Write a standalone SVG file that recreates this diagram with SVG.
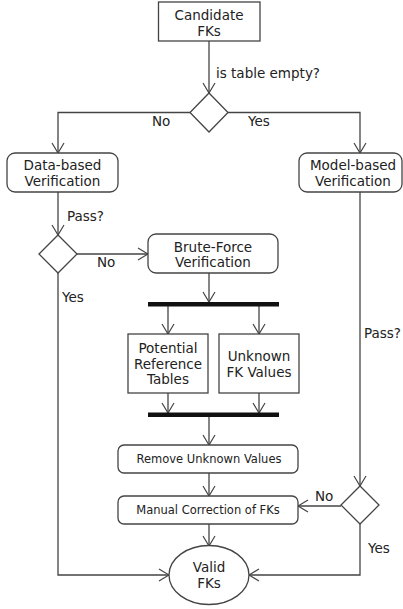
<svg xmlns="http://www.w3.org/2000/svg" width="403" height="609" viewBox="0 0 403 609">
<style>
  .box{fill:#fff;stroke:#444;stroke-width:1.3}
  .bar{fill:#111;stroke:none}
  .t{font-family:"DejaVu Sans",sans-serif;font-size:13.5px;fill:#222;text-anchor:middle}
  .s{font-family:"DejaVu Sans",sans-serif;font-size:11.5px;fill:#222;text-anchor:middle}
  .l{font-family:"DejaVu Sans",sans-serif;font-size:13.5px;fill:#222}
  .c{fill:none;stroke:#444;stroke-width:1.3}
</style>
<defs>
  <marker id="arr" viewBox="-11 -7 12 14" refX="0" refY="0" markerWidth="12" markerHeight="14" orient="auto" markerUnits="userSpaceOnUse">
    <path d="M-10,-6 L0,0 L-10,6" fill="none" stroke="#444" stroke-width="1.2"/>
  </marker>
</defs>
<rect width="403" height="609" fill="#fff"/>
<g id="connectors">
  <path class="c" d="M209,41 V93" marker-end="url(#arr)"/>
  <path class="c" d="M190,112.5 H58 V153" marker-end="url(#arr)"/>
  <path class="c" d="M228,112.5 H360 V153" marker-end="url(#arr)"/>
  <path class="c" d="M58,192 V235" marker-end="url(#arr)"/>
  <path class="c" d="M77,254 H148" marker-end="url(#arr)"/>
  <path class="c" d="M58,273 V575 H169" marker-end="url(#arr)"/>
  <path class="c" d="M209,273 V302" marker-end="url(#arr)"/>
  <path class="c" d="M168,306 V334" marker-end="url(#arr)"/>
  <path class="c" d="M259,306 V334" marker-end="url(#arr)"/>
  <path class="c" d="M168,393 V413" marker-end="url(#arr)"/>
  <path class="c" d="M259,393 V413" marker-end="url(#arr)"/>
  <path class="c" d="M209,417 V445" marker-end="url(#arr)"/>
  <path class="c" d="M209,473 V496" marker-end="url(#arr)"/>
  <path class="c" d="M209,524 V546" marker-end="url(#arr)"/>
  <path class="c" d="M360,192 V486" marker-end="url(#arr)"/>
  <path class="c" d="M341,506 H298" marker-end="url(#arr)"/>
  <path class="c" d="M360,524 V575 H249" marker-end="url(#arr)"/>
  <text class="l" x="216" y="78">is table empty?</text>
  <text class="l" x="152" y="126">No</text>
  <text class="l" x="248" y="126">Yes</text>
  <text class="l" x="67" y="221">Pass?</text>
  <text class="l" x="97" y="267">No</text>
  <text class="l" x="62" y="302">Yes</text>
  <text class="l" x="364" y="338">Pass?</text>
  <text class="l" x="315" y="501">No</text>
  <text class="l" x="368" y="553">Yes</text>
</g>
<g id="candidate">
  <rect class="box" x="158.5" y="2" width="101.5" height="39"/>
  <text class="t" x="209" y="19.5">Candidate</text>
  <text class="t" x="209" y="35.5">FKs</text>
</g>
<g id="decision1">
  <polygon class="box" points="209,93 228,112.5 209,132 190,112.5"/>
</g>
<g id="data-based">
  <rect class="box" x="7" y="153" width="111" height="39" rx="8"/>
  <text class="t" x="62.5" y="170">Data-based</text>
  <text class="t" x="62.5" y="186">Verification</text>
</g>
<g id="model-based">
  <rect class="box" x="299" y="153" width="103" height="39" rx="8"/>
  <text class="t" x="353" y="170">Model-based</text>
  <text class="t" x="353" y="186">Verification</text>
</g>
<g id="decision2">
  <polygon class="box" points="58,235 77,254 58,273 39,254"/>
</g>
<g id="brute-force">
  <rect class="box" x="148" y="234" width="130" height="39" rx="8"/>
  <text class="t" x="213" y="251.5">Brute-Force</text>
  <text class="t" x="213" y="267">Verification</text>
</g>
<g id="fork">
  <rect class="bar" x="148" y="302" width="131" height="4.5"/>
</g>
<g id="potential">
  <rect class="box" x="128" y="334" width="80" height="59"/>
  <text class="t" x="168" y="353">Potential</text>
  <text class="t" x="168" y="368.5">Reference</text>
  <text class="t" x="168" y="384">Tables</text>
</g>
<g id="unknown">
  <rect class="box" x="219" y="334" width="80" height="59"/>
  <text class="t" x="259" y="361">Unknown</text>
  <text class="t" x="259" y="377">FK Values</text>
</g>
<g id="join">
  <rect class="bar" x="148" y="412.5" width="131" height="4.5"/>
</g>
<g id="remove">
  <rect class="box" x="118" y="445" width="180" height="28" rx="6"/>
  <text class="s" x="209" y="463">Remove Unknown Values</text>
</g>
<g id="manual">
  <rect class="box" x="118" y="496" width="180" height="28" rx="6"/>
  <text class="s" x="208" y="514">Manual Correction of FKs</text>
</g>
<g id="decision3">
  <polygon class="box" points="360,486 379,505 360,524 341,505"/>
</g>
<g id="valid">
  <ellipse class="box" cx="209" cy="575" rx="40" ry="29.5"/>
  <text class="t" x="209" y="572">Valid</text>
  <text class="t" x="209" y="588">FKs</text>
</g>
</svg>
